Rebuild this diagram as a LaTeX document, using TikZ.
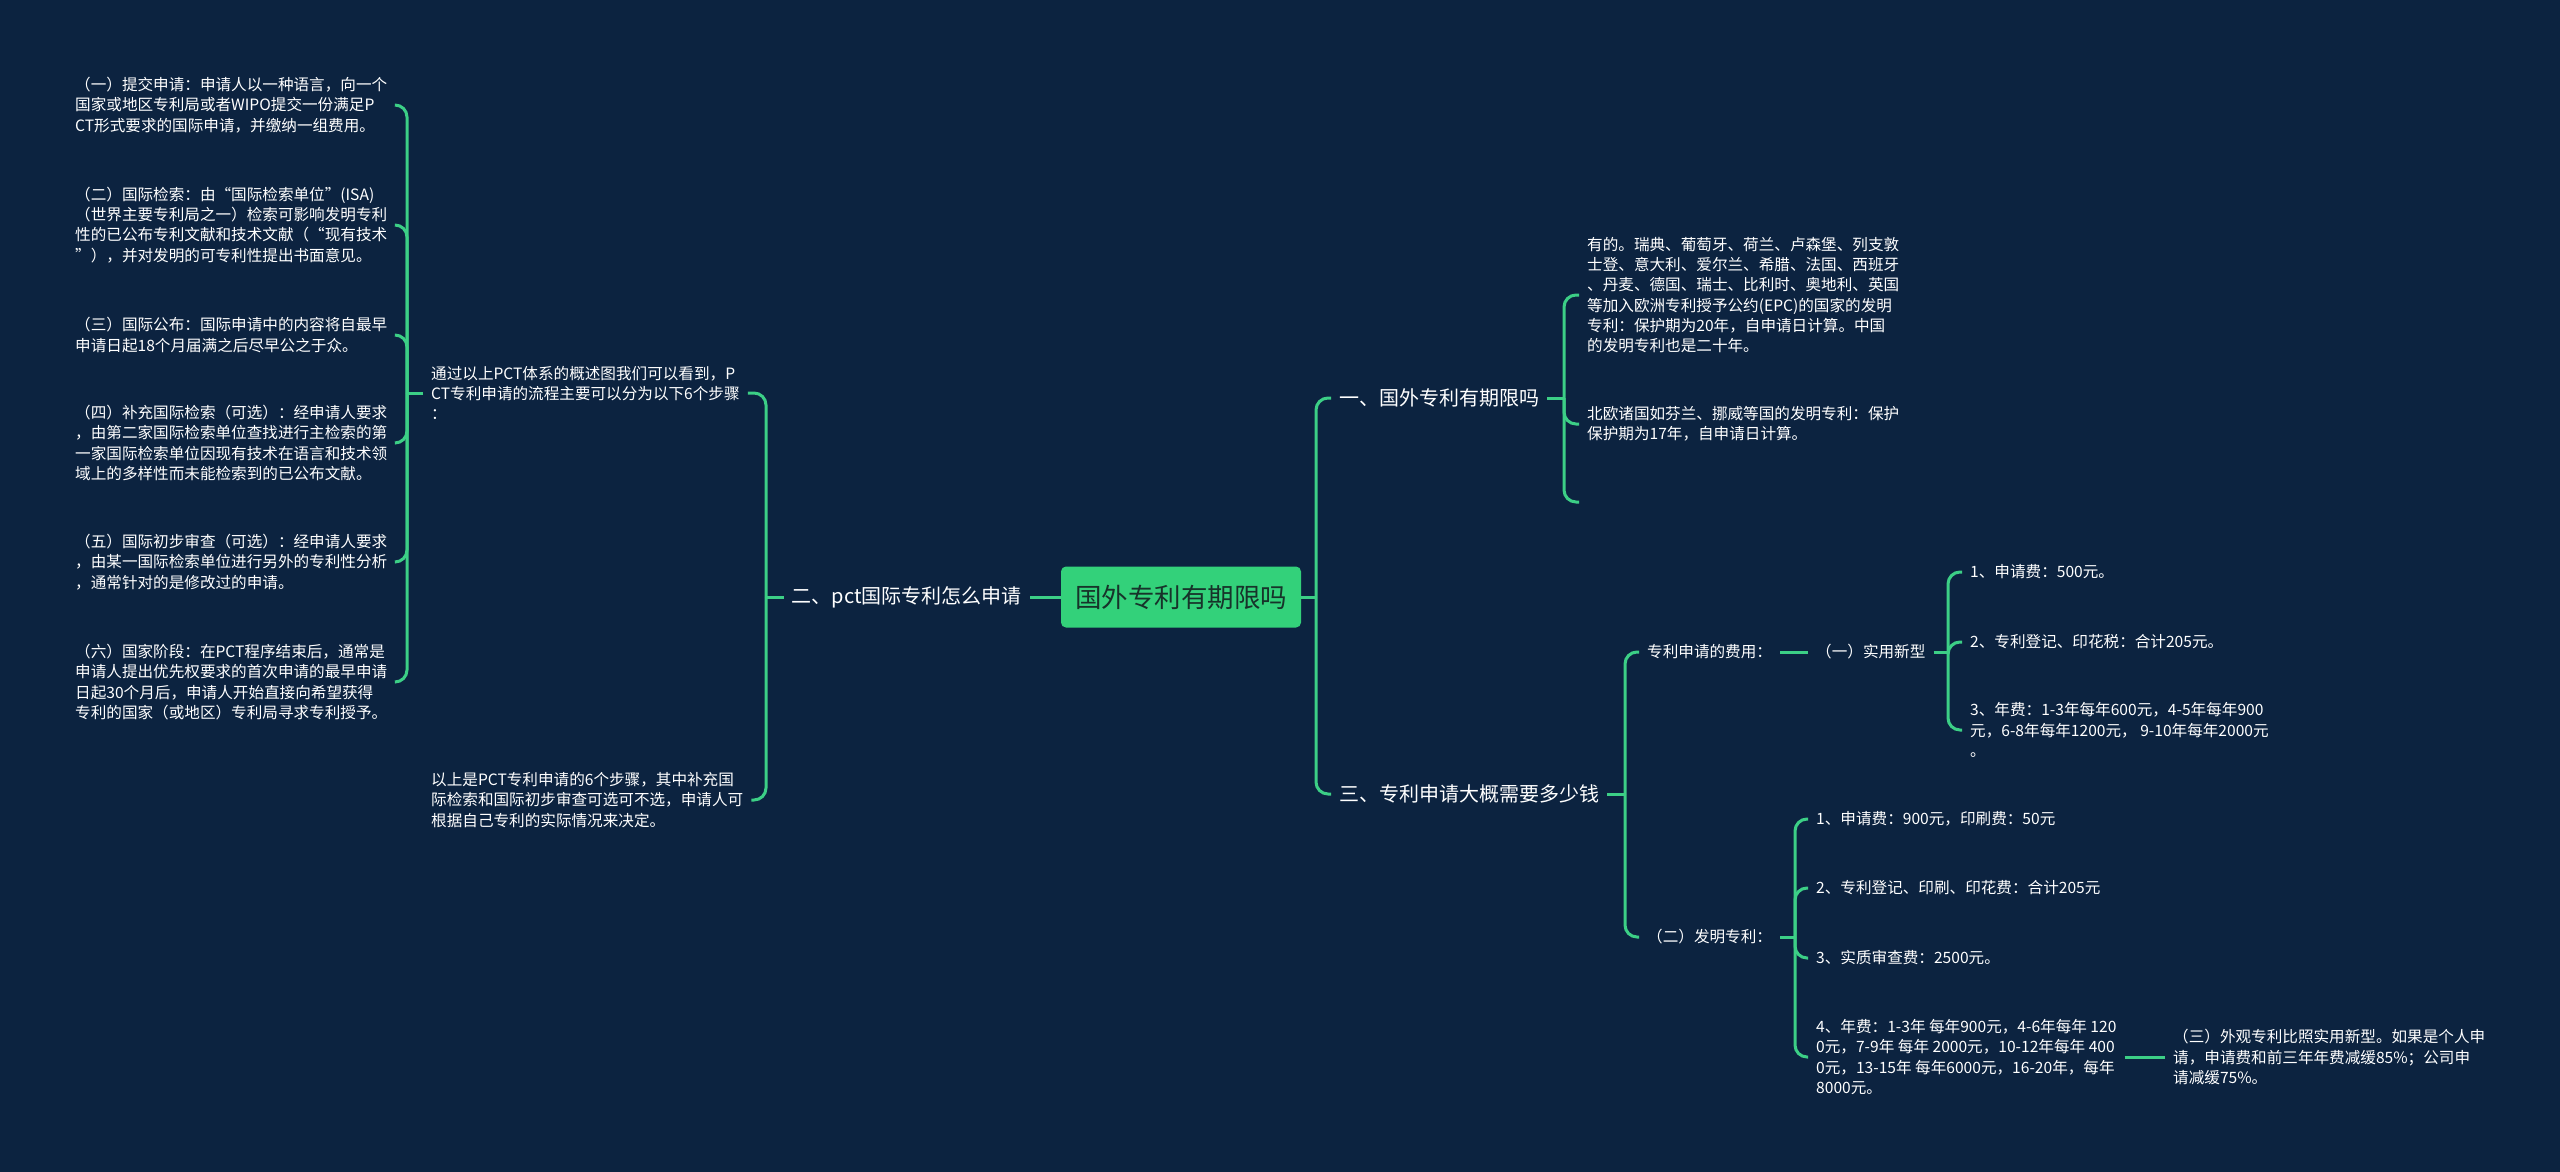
\documentclass[tikz,border=0pt]{standalone}
\usepackage{fontspec}
\setmainfont{Noto Sans CJK SC}
\definecolor{bgnavy}{HTML}{0C2340}
\definecolor{linkgreen}{HTML}{3CCF86}
\definecolor{rootgreen}{HTML}{33D17A}
\definecolor{rootink}{HTML}{17332A}
\newcommand{\leaffont}{\fontsize{15.6}{20.3}\selectfont}

\begin{document}
\begin{tikzpicture}[x=1pt,y=-1pt,
  leaf/.style   ={text=white, font=\leaffont, align=left, inner xsep=8, inner ysep=2},
  topic/.style  ={text=white, font=\fontsize{20}{24}\selectfont, inner xsep=8, inner ysep=2},
  rootbox/.style={fill=rootgreen, text=rootink, rounded corners=5, minimum width=240,
                  minimum height=61, font=\fontsize{26.5}{30}\selectfont},
  link/.style   ={draw=linkgreen, line width=3, rounded corners=12}]
  \useasboundingbox (0,0) rectangle (2560,1171);
  \fill[bgnavy] (-6,-6) rectangle (2566,1177);

  \node[rootbox]            (root)   at (1181, 597) {国外专利有期限吗};
  \node[topic, anchor=east] (two)    at (1030, 597) {二、pct国际专利怎么申请};
  \node[topic, anchor=west] (one)    at (1331, 398) {一、国外专利有期限吗};
  \node[topic, anchor=west] (three)  at (1331, 794) {三、专利申请大概需要多少钱};

  \node[leaf, anchor=west] (intro) at (423, 393) {通过以上PCT体系的概述图我们可以看到，P\\CT专利申请的流程主要可以分为以下6个步骤\\：};
  \node[leaf, anchor=west] (recap) at (423, 800) {以上是PCT专利申请的6个步骤，其中补充国\\际检索和国际初步审查可选可不选，申请人可\\根据自己专利的实际情况来决定。};

  \node[leaf, anchor=west] (s1) at (67, 105) {（一）提交申请：申请人以一种语言，向一个\\国家或地区专利局或者WIPO提交一份满足P\\CT形式要求的国际申请，并缴纳一组费用。};
  \node[leaf, anchor=west] (s2) at (67, 225) {（二）国际检索：由“国际检索单位”(ISA)\\（世界主要专利局之一）检索可影响发明专利\\性的已公布专利文献和技术文献（“现有技术\\”），并对发明的可专利性提出书面意见。};
  \node[leaf, anchor=west] (s3) at (67, 335) {（三）国际公布：国际申请中的内容将自最早\\申请日起18个月届满之后尽早公之于众。};
  \node[leaf, anchor=west] (s4) at (67, 443) {（四）补充国际检索（可选）：经申请人要求\\，由第二家国际检索单位查找进行主检索的第\\一家国际检索单位因现有技术在语言和技术领\\域上的多样性而未能检索到的已公布文献。};
  \node[leaf, anchor=west] (s5) at (67, 562) {（五）国际初步审查（可选）：经申请人要求\\，由某一国际检索单位进行另外的专利性分析\\，通常针对的是修改过的申请。};
  \node[leaf, anchor=west] (s6) at (67, 682) {（六）国家阶段：在PCT程序结束后，通常是\\申请人提出优先权要求的首次申请的最早申请\\日起30个月后，申请人开始直接向希望获得\\专利的国家（或地区）专利局寻求专利授予。};

  \node[leaf, anchor=west] (epc)    at (1579, 295) {有的。瑞典、葡萄牙、荷兰、卢森堡、列支敦\\士登、意大利、爱尔兰、希腊、法国、西班牙\\、丹麦、德国、瑞士、比利时、奥地利、英国\\等加入欧洲专利授予公约(EPC)的国家的发明\\专利：保护期为20年，自申请日计算。中国\\的发明专利也是二十年。};
  \node[leaf, anchor=west] (nordic) at (1579, 424) {北欧诸国如芬兰、挪威等国的发明专利：保护\\保护期为17年，自申请日计算。};
  \node[leaf, anchor=west] (blank)  at (1579, 502) {};

  \node[leaf, anchor=west] (fee)     at (1639, 652) {专利申请的费用：};
  \node[leaf, anchor=west] (utility) at (1808, 652) {（一）实用新型};
  \node[leaf, anchor=west] (invent)  at (1639, 937) {（二）发明专利：};

  \node[leaf, anchor=west] (u1) at (1962, 572) {1、申请费：500元。};
  \node[leaf, anchor=west] (u2) at (1962, 642) {2、专利登记、印花税：合计205元。};
  \node[leaf, anchor=west] (u3) at (1962, 730) {3、年费：1-3年每年600元，4-5年每年900\\元，6-8年每年1200元， 9-10年每年2000元\\。};

  \node[leaf, anchor=west] (v1) at (1808, 819)  {1、申请费：900元，印刷费：50元};
  \node[leaf, anchor=west] (v2) at (1808, 888)  {2、专利登记、印刷、印花费：合计205元};
  \node[leaf, anchor=west] (v3) at (1808, 958)  {3、实质审查费：2500元。};
  \node[leaf, anchor=west] (v4) at (1808, 1057) {4、年费：1-3年 每年900元，4-6年每年 120\\0元，7-9年 每年 2000元，10-12年每年 400\\0元，13-15年 每年6000元，16-20年，每年\\8000元。};
  \node[leaf, anchor=west] (design) at (2165, 1057) {（三）外观专利比照实用新型。如果是个人申\\请，申请费和前三年年费减缓85\%；公司申\\请减缓75\%。};

  \coordinate (lj) at ( 766, 597);
  \coordinate (aj) at ( 407, 393);
  \coordinate (rj) at (1316, 597);
  \coordinate (oj) at (1564, 398);
  \coordinate (tj) at (1625, 794);
  \coordinate (uj) at (1948, 652);
  \coordinate (ij) at (1795, 937);

  \draw[link] (two.east)    -- (root.west);
  \draw[link] (two.west)    -- (lj);
  \draw[link] (lj) |- (intro.east);
  \draw[link] (lj) |- (recap.east);
  \draw[link] (intro.west)  -- (aj);
  \draw[link] (aj) |- (s1.east);
  \draw[link] (aj) |- (s2.east);
  \draw[link] (aj) |- (s3.east);
  \draw[link] (aj) |- (s4.east);
  \draw[link] (aj) |- (s5.east);
  \draw[link] (aj) |- (s6.east);

  \draw[link] (root.east)   -- (rj);
  \draw[link] (rj) |- (one.west);
  \draw[link] (rj) |- (three.west);
  \draw[link] (one.east)    -- (oj);
  \draw[link] (oj) |- (epc.west);
  \draw[link] (oj) |- (nordic.west);
  \draw[link] (oj) |- (blank.west);
  \draw[link] (three.east)  -- (tj);
  \draw[link] (tj) |- (fee.west);
  \draw[link] (tj) |- (invent.west);
  \draw[link] (fee.east)    -- (utility.west);
  \draw[link] (utility.east) -- (uj);
  \draw[link] (uj) |- (u1.west);
  \draw[link] (uj) |- (u2.west);
  \draw[link] (uj) |- (u3.west);
  \draw[link] (invent.east) -- (ij);
  \draw[link] (ij) |- (v1.west);
  \draw[link] (ij) |- (v2.west);
  \draw[link] (ij) |- (v3.west);
  \draw[link] (ij) |- (v4.west);
  \draw[link] (v4.east)     -- (design.west);
\end{tikzpicture}
\end{document}
